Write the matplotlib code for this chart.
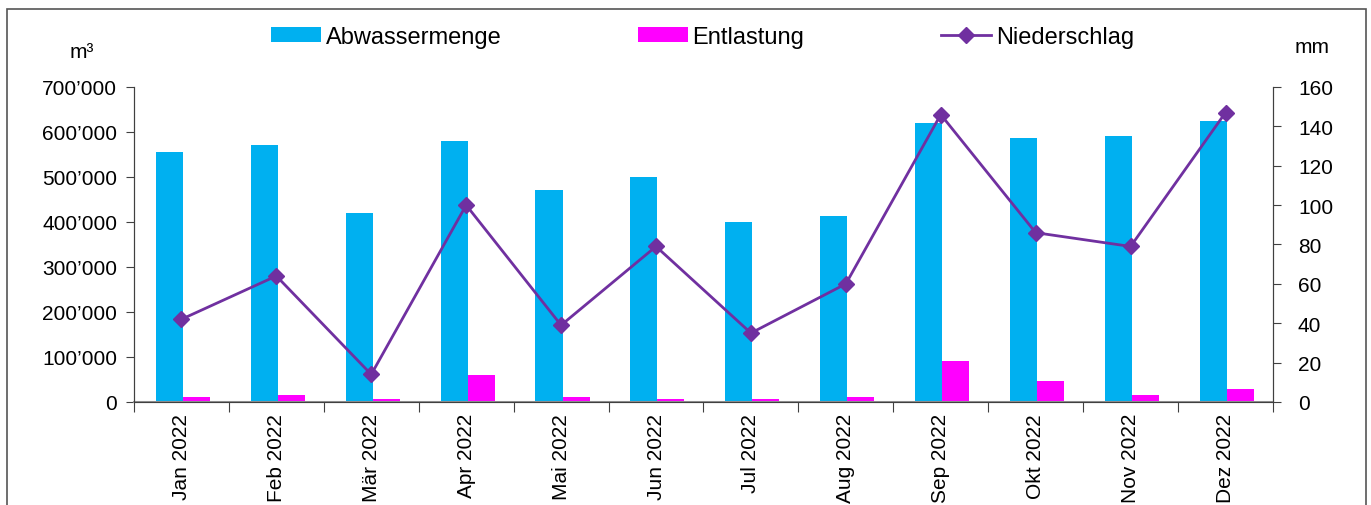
import matplotlib.pyplot as plt
import matplotlib.ticker as ticker
from matplotlib.patches import Rectangle
import numpy as np

plt.rcParams['font.family'] = ['Liberation Sans', 'DejaVu Sans']
plt.rcParams['font.size'] = 15

monate = ['Jan 2022', 'Feb 2022', 'Mär 2022', 'Apr 2022', 'Mai 2022', 'Jun 2022',
          'Jul 2022', 'Aug 2022', 'Sep 2022', 'Okt 2022', 'Nov 2022', 'Dez 2022']
abwassermenge = [556000, 571000, 421000, 580000, 470000, 500000,
                 400000, 413000, 620000, 586000, 590000, 624000]
entlastung = [11000, 15500, 6500, 60000, 11000, 6000,
              6000, 10000, 90000, 46000, 15500, 28000]
niederschlag = [42, 64, 14, 100, 39, 79, 35, 60, 146, 86, 79, 147]


def tausender(v, pos):
    return '{:,.0f}'.format(v).replace(',', '\u2019')


fig = plt.figure(figsize=(13.71, 5.06), dpi=100)
ax1 = fig.add_axes([0.0977, 0.2036, 0.8308, 0.6225])
x = np.arange(len(monate))
w = 0.285
dx = 0.015

ax1.bar(x - w / 2 + dx, abwassermenge, w, color='#00B0F0', label='Abwassermenge')
ax1.bar(x + w / 2 + dx, entlastung, w, color='#FF00FF', label='Entlastung')
ax1.set_xlim(-0.5, len(monate) - 0.5)
ax1.set_ylim(0, 700000)
ax1.yaxis.set_major_locator(ticker.MultipleLocator(100000))
ax1.yaxis.set_major_formatter(ticker.FuncFormatter(tausender))

# Monatsnamen mittig, Teilstriche zwischen den Monaten
ax1.set_xticks(np.arange(-0.5, len(monate)), minor=False)
ax1.set_xticklabels([])
ax1.set_xticks(x, minor=True)
ax1.set_xticklabels(monate, minor=True, rotation=90, va='top', fontsize=15)
ax1.tick_params(axis='x', which='minor', length=0, pad=8)
ax1.tick_params(axis='x', which='major', length=7, color='#404040')
ax1.tick_params(axis='y', length=6, color='#404040', pad=6)

ax2 = ax1.twinx()
ax2.plot(x, niederschlag, color='#7030A0', lw=2, marker='D', ms=8.5,
         label='Niederschlag')
ax2.set_ylim(0, 160)
ax2.yaxis.set_major_locator(ticker.MultipleLocator(20))
ax2.tick_params(axis='y', length=6, color='#404040', pad=12)

for ax in (ax1, ax2):
    ax.spines['top'].set_visible(False)
    for s in ('left', 'right', 'bottom'):
        ax.spines[s].set_color('#404040')
ax1.spines['bottom'].set_color('#909090')
ax1.spines['bottom'].set_linewidth(1.5)

fig.text(0.0598, 0.897, 'm³', ha='center', va='center', fontsize=15)
fig.text(0.957, 0.907, 'mm', ha='center', va='center', fontsize=15)

h1, l1 = ax1.get_legend_handles_labels()
h2, l2 = ax2.get_legend_handles_labels()
fig.legend(h1 + h2, l1 + l2, loc='center', bbox_to_anchor=(0.5124, 0.925),
           ncol=3, frameon=False, handlelength=2.1, handleheight=0.6,
           handletextpad=0.2, columnspacing=5.8, fontsize=17)

# Rahmen um die Grafik
fig.patches.append(Rectangle((0.005, -0.1), 0.9915, 1.08, transform=fig.transFigure,
                             fill=False, edgecolor='#555555', lw=1.2))

fig.savefig('out.png', dpi=100)
